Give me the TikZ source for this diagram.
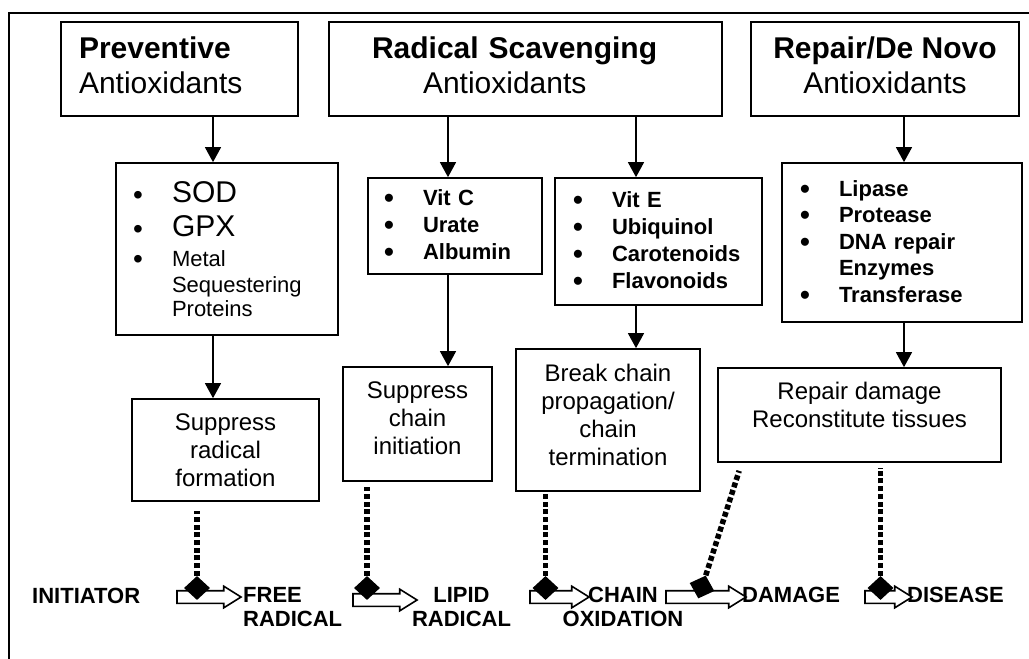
\documentclass[tikz,border=0pt]{standalone}
\usepackage{fontspec}
\setmainfont{Liberation Sans}
\usetikzlibrary{arrows.meta,calc,shapes.geometric,shapes.arrows}
\newcommand{\blt}{\makebox[39pt][l]{\raisebox{-2pt}{\fontsize{28}{28}\selectfont\textbullet}}}
\newcommand{\gap}{\hspace*{39pt}}

\begin{document}
\begin{tikzpicture}[x=1pt, y=-1pt,
  boxed/.style={draw, line width=1.7pt, inner sep=0pt},
  headbox/.style={boxed, minimum height=94pt, font=\fontsize{30}{35}\selectfont},
  listbox/.style={boxed, align=left, font=\fontsize{22}{27}\selectfont\bfseries},
  effbox/.style={boxed, align=center, font=\fontsize{24}{28}\selectfont},
  arr/.style={-{Triangle[length=15pt,width=16pt]}, line width=1.4pt},
  inhib/.style={line width=5.5pt, dash pattern=on 5pt off 2.7pt},
  block/.style={single arrow, draw, line width=1.6pt, fill=white, inner sep=0pt,
    text height=11pt, text depth=0pt, single arrow head extend=4.5pt,
    single arrow tip angle=64},
  blocker/.style={diamond, fill=black, inner sep=0pt, minimum width=26pt, minimum height=24pt},
  stage/.style={inner sep=0pt, font=\fontsize{22}{24}\selectfont\bfseries}]

  \useasboundingbox (0,0) rectangle (1029,659);
  \clip (0,0) rectangle (1029,659);

  % Outer frame
  \draw[line width=1.8pt] (9.3,670) -- (9.3,12.7) -- (1040,12.7);

  % Antioxidant classes
  \node[headbox, minimum width=237pt, text width=201pt, inner xsep=18pt, align=left] (prev) at (179.5,69)
    {\textbf{Preventive}\\Antioxidants\\[-27pt]\mbox{}};
  \node[headbox, minimum width=393pt, text width=307pt, inner xsep=43pt, align=left] (rad) at (525.5,69)
    {\textbf{Radical Scavenging}\\\hspace*{51pt}Antioxidants\\[-27pt]\mbox{}};
  \node[headbox, minimum width=268pt, align=center] (rep) at (885,69)
    {\textbf{Repair/De Novo}\\Antioxidants\\[-27pt]\mbox{}};

  % Members
  \node[listbox, text width=188pt, inner xsep=17pt, minimum height=172pt, font=\fontsize{22}{24}\selectfont] (sod) at (227,249)
    {\blt{\fontsize{30}{34}\selectfont SOD}\\[10pt]
     \blt{\fontsize{30}{34}\selectfont GPX}\\[6pt]
     \blt Metal\\[2pt]
     \gap Sequestering\\
     \gap Proteins};
  \node[listbox, text width=142pt, inner xsep=16pt, minimum height=96pt] (vc) at (455,226)
    {\blt Vit C\\\blt Urate\\\blt Albumin};
  \node[listbox, text width=171pt, inner xsep=18pt, minimum height=127pt] (ve) at (658.5,241.5)
    {\blt Vit E\\\blt Ubiquinol\\\blt Carotenoids\\\blt Flavonoids};
  \node[listbox, text width=204pt, inner xsep=18pt, minimum height=159pt, font=\fontsize{22}{26.5}\selectfont\bfseries] (lip) at (902,242.5)
    {\blt Lipase\\\blt Protease\\\blt DNA repair\\\gap Enzymes\\\blt Transferase};

  % Effects
  \node[effbox, minimum width=187pt, minimum height=102pt] (srf) at (225.5,450) {Suppress\\radical\\formation};
  \node[effbox, minimum width=149pt, minimum height=114pt] (sci) at (417.5,424) {Suppress\\chain\\initiation\\[-16pt]\mbox{}};
  \node[effbox, minimum width=184pt, minimum height=142pt] (bcp) at (608,420) {Break chain\\propagation/\\chain\\termination\\[-18pt]\mbox{}};
  \node[effbox, minimum width=283pt, minimum height=94pt] (rdt) at (859.5,415) {Repair damage\\Reconstitute tissues\\[-8pt]\mbox{}};

  % Arrows down
  \draw[arr] ([xshift=33.5pt]prev.south) coordinate (p1) -- (p1 |- sod.north);
  \draw[arr] (p1 |- sod.south) -- (p1 |- srf.north);
  \draw[arr] ([xshift=-77.5pt]rad.south) coordinate (p2) -- (p2 |- vc.north);
  \draw[arr] (p2 |- vc.south) -- (p2 |- sci.north);
  \draw[arr] ([xshift=110.5pt]rad.south) coordinate (p3) -- (p3 |- ve.north);
  \draw[arr] (p3 |- ve.south) -- (p3 |- bcp.north);
  \draw[arr] ([xshift=19pt]rep.south) coordinate (p4) -- (p4 |- lip.north);
  \draw[arr] (p4 |- lip.south) -- (p4 |- rdt.north);

  % Sequence of events
  \node[stage, anchor=base west] (init) at (32,603) {INITIATOR};
  \node[stage, anchor=north west, align=left] (frad) at (243,587.2) {FREE\\RADICAL};
  \node[stage, anchor=north, align=center] (lrad) at (461.5,587.2) {LIPID\\RADICAL};
  \node[stage, anchor=north, align=center] (coxi) at (623,587.2) {CHAIN\\OXIDATION};
  \node[stage, anchor=base west] (dmg) at (742,602) {DAMAGE};
  \node[stage, anchor=base west] (dis) at (907,602) {DISEASE};

  \node[block, minimum height=64pt] (ar1) at (204,597) {};
  \node[block, minimum height=64pt] (ar2) at (380,600) {};
  \node[block, minimum height=59pt] (ar3) at (554.5,597) {};
  \node[block, minimum height=80pt] (ar4) at (701,597) {};
  \node[block, minimum height=47pt] (ar5) at (883.5,597) {};

  % Blocking points
  \node[blocker] (d1) at (197,588) {};
  \node[blocker] (d2) at (367,588) {};
  \node[blocker] (d3) at (545.5,588) {};
  \node[blocker, rotate=-18] (d4) at (702,587) {};
  \node[blocker] (d5) at (880.5,588) {};

  \draw[inhib, shorten >=9pt] (d1.north) -- (d1 |- srf.south);
  \draw[inhib, shorten >=5pt] (d2.north) -- (d2 |- sci.south);
  \draw[inhib] (d3.north) -- (d3 |- bcp.south);
  \draw[inhib] (d4.north) -- ($(rdt.south west)+(22,8)$);
  \draw[inhib, shorten >=5pt] (d5.north) -- (d5 |- rdt.south);
\end{tikzpicture}
\end{document}
